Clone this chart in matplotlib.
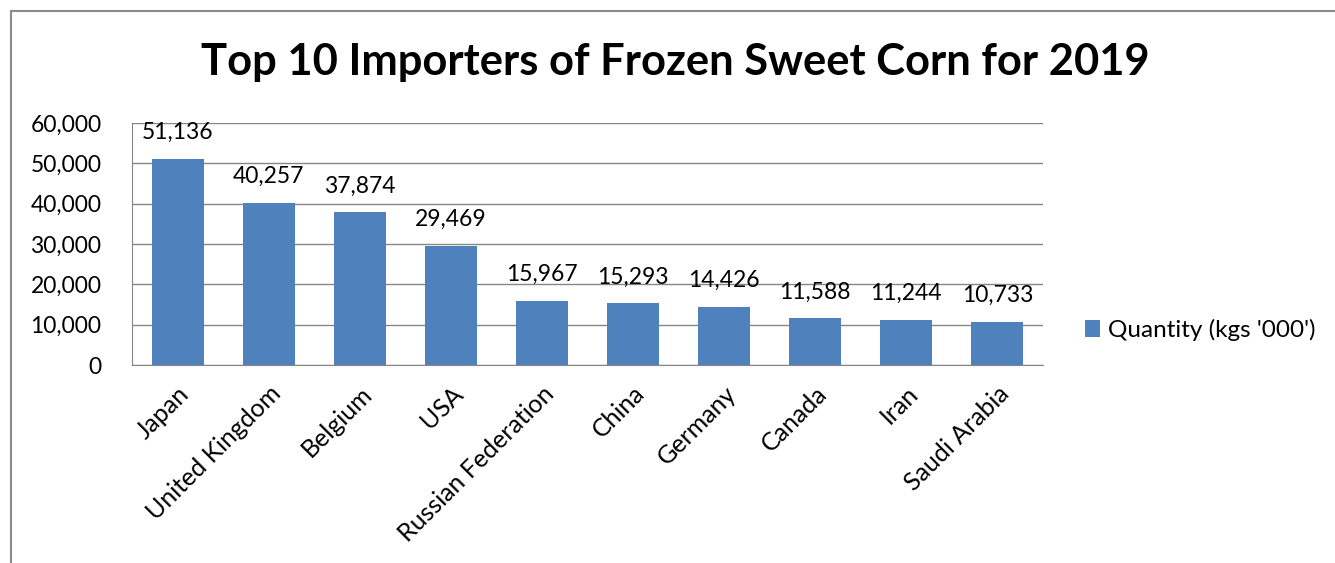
import matplotlib
matplotlib.use("Agg")
from matplotlib import pyplot as plt
from matplotlib.lines import Line2D

countries = ["Japan", "United Kingdom", "Belgium", "USA", "Russian Federation",
             "China", "Germany", "Canada", "Iran", "Saudi Arabia"]
quantity = [51136, 40257, 37874, 29469, 15967, 15293, 14426, 11588, 11244, 10733]
yticks = [0, 10000, 20000, 30000, 40000, 50000, 60000]

plt.rcParams['font.family'] = ['Lato', 'DejaVu Sans']

fig = plt.figure(figsize=(13.35, 5.63), dpi=100)
ax = fig.add_axes([132 / 1335, 1 - 365 / 563, (1043 - 132) / 1335, (365 - 123) / 563])

# outer chart border (only top and left visible in the crop)
fig.add_artist(Line2D([11 / 1335, 11 / 1335], [0, 1 - 11 / 563], color='#8c8c8c', lw=1.5))
fig.add_artist(Line2D([11 / 1335, 1], [1 - 11 / 563, 1 - 11 / 563], color='#8c8c8c', lw=1.5))

x = range(len(countries))
bars = ax.bar(x, quantity, width=0.57, color='#4f81bd', label="Quantity (kgs '000')", zorder=3)

for i, v in enumerate(quantity):
    ax.annotate(f"{v:,}", (i, v), xytext=(0, 19), textcoords='offset points',
                ha='center', va='center', fontsize=16.5)

ax.set_xlim(-0.5, len(countries) - 0.5)
ax.set_ylim(0, 60000)
ax.set_yticks(yticks)
ax.set_yticklabels([f"{t:,}" for t in yticks], fontsize=16.5)
ax.set_xticks(list(x))
ax.set_xticklabels(countries, rotation=45, ha='right', rotation_mode='anchor', fontsize=18)
ax.grid(axis='y', color='#868686', lw=1, zorder=0)
ax.tick_params(axis='y', length=0, pad=22)
ax.tick_params(axis='x', length=0, pad=12)
for s in ['top', 'right']:
    ax.spines[s].set_visible(False)
for s in ['left', 'bottom']:
    ax.spines[s].set_color('#868686')

fig.text(0.506, 1 - 62 / 563, "Top 10 Importers of Frozen Sweet Corn for 2019",
         ha='center', va='center', fontsize=31.3, fontweight='bold')

ax.legend(loc='center left', bbox_to_anchor=(1.035, 0.145), frameon=False, fontsize=17.5,
          handlelength=0.65, handleheight=0.65, handletextpad=0.3, borderaxespad=0)

fig.savefig("out.png", dpi=100)
